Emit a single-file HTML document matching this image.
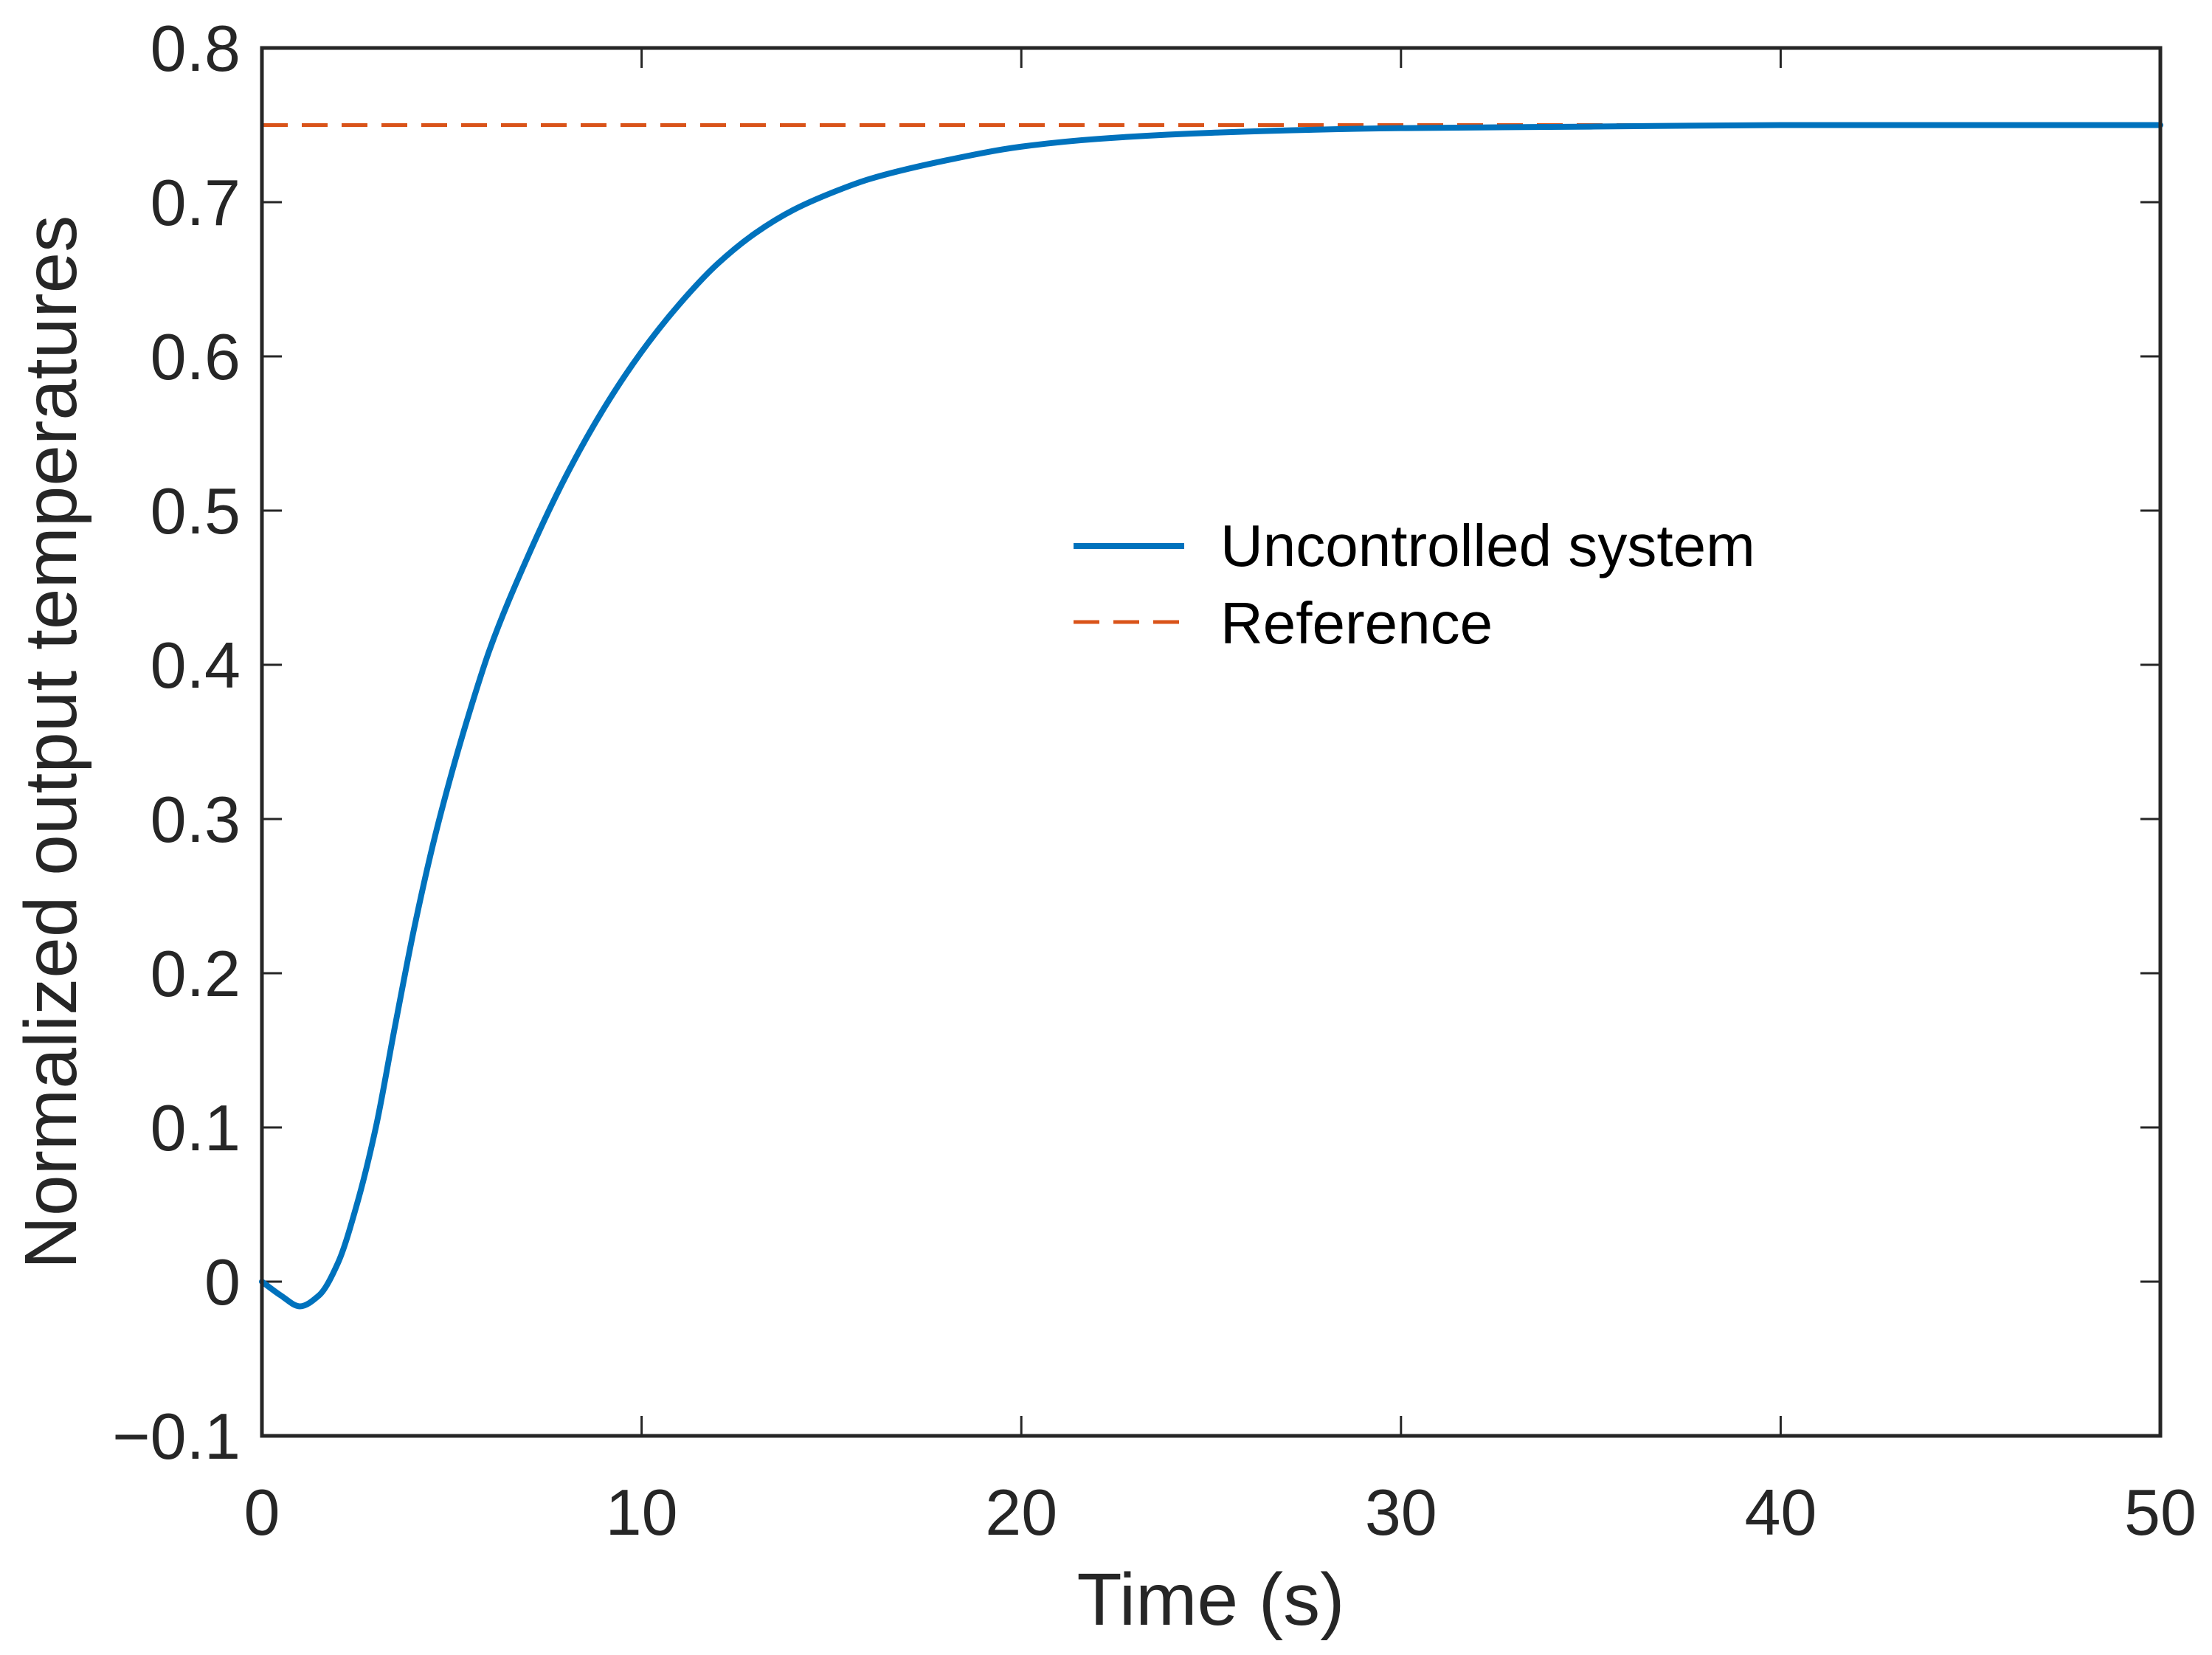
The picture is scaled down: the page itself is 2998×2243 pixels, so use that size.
<!DOCTYPE html>
<html><head><meta charset="utf-8"><style>
html,body{margin:0;padding:0;background:#fff;}
svg{display:block;font-family:"Liberation Sans",Arial,sans-serif;}
</style></head><body>
<svg id="chart" width="2998" height="2243" viewBox="0 0 2998 2243" xmlns="http://www.w3.org/2000/svg">
<rect width="2998" height="2243" fill="#fff"/>
<g id="ticks"></g>
<g id="series"></g>
<rect x="355" y="65" width="2573" height="1881" fill="none" stroke="#262626" stroke-width="5"/>
<text x="1641" y="2202" font-size="100" fill="#262626" text-anchor="middle">Time (s)</text>
<text transform="translate(103,1006) rotate(-90)" font-size="100" fill="#262626" text-anchor="middle">Normalized output temperatures</text>
<g>
<line x1="1455" y1="740" x2="1605" y2="740" stroke="#0072BD" stroke-width="8"/>
<text x="1654" y="767" font-size="80" fill="#000">Uncontrolled system</text>
<line x1="1455" y1="843" x2="1605" y2="843" stroke="#D95319" stroke-width="5" stroke-dasharray="35,19"/>
<text x="1654" y="872" font-size="80" fill="#000">Reference</text>
</g>
</svg>
<script>
const timeValues = [0,0.5,1,1.5,2,2.5,3,3.5,4,4.5,5,5.5,6,7,8,9,10,11,12,13,14,15,16,18,20,22,25,30,35,40,50];
const uncontrolledValues = [0,-0.009,-0.016,-0.009,0.012,0.05,0.1,0.165,0.228,0.283,0.33,0.372,0.41,0.47,0.522,0.566,0.603,0.634,0.66,0.68,0.695,0.706,0.715,0.727,0.736,0.741,0.745,0.748,0.749,0.75,0.75];
const referenceValue = [0.75];
const xTicks = [0,10,20,30,40,50];
const yTicks = [-0.1,0,0.1,0.2,0.3,0.4,0.5,0.6,0.7,0.8];
const yTickLabels = ["\u22120.1","0","0.1","0.2","0.3","0.4","0.5","0.6","0.7","0.8"];

const X0=355,X1=2928,Y0=1946,Y1=65;
function sx(v){return X0+(v-0)/(50-0)*(X1-X0);}
function sy(v){return Y0-(v-(-0.1))/(0.8-(-0.1))*(Y0-Y1);}
const NS="http://www.w3.org/2000/svg";
const tg=document.getElementById('ticks');
const sg=document.getElementById('series');
function mk(tag,attrs,parent){const e=document.createElementNS(NS,tag);for(const k in attrs)e.setAttribute(k,attrs[k]);parent.appendChild(e);return e;}

xTicks.forEach(function(v){
  const x=sx(v);
  const t1=mk('line',{x1:x,y1:Y0,x2:x,y2:Y0-27,stroke:'#262626','stroke-width':3},tg);
  
  
  const t2=mk('line',{x1:x,y1:Y1,x2:x,y2:Y1+27,stroke:'#262626','stroke-width':3},tg);
  
  
  const lb=mk('text',{x:x,y:2080,'font-size':88,fill:'#262626','text-anchor':'middle'},tg);
  lb.textContent=String(v);
  
  
});
yTicks.forEach(function(v,i){
  const y=sy(v);
  const t1=mk('line',{x1:X0,y1:y,x2:X0+27,y2:y,stroke:'#262626','stroke-width':3},tg);
  
  
  const t2=mk('line',{x1:X1,y1:y,x2:X1-27,y2:y,stroke:'#262626','stroke-width':3},tg);
  
  
  const lb=mk('text',{x:326,y:y+31,'font-size':88,fill:'#262626','text-anchor':'end'},tg);
  lb.textContent=yTickLabels[i];
  
  
});

const ref=mk('line',{x1:sx(0),y1:sy(referenceValue[0]),x2:sx(50),y2:sy(referenceValue[0]),stroke:'#D95319','stroke-width':5,'stroke-dasharray':'35,19'},sg);



// monotone cubic (Fritsch-Carlson) interpolation in data space
const n=timeValues.length;
const dk=[],m=new Array(n);
for(let i=0;i<n-1;i++)dk.push((uncontrolledValues[i+1]-uncontrolledValues[i])/(timeValues[i+1]-timeValues[i]));
m[0]=dk[0];m[n-1]=dk[n-2];
for(let i=1;i<n-1;i++){
  if(dk[i-1]*dk[i]<=0)m[i]=0;
  else{const h0=timeValues[i]-timeValues[i-1],h1=timeValues[i+1]-timeValues[i];
    const w1=2*h1+h0,w2=h1+2*h0;m[i]=(w1+w2)/(w1/dk[i-1]+w2/dk[i]);}
}
let d='M'+sx(timeValues[0])+','+sy(uncontrolledValues[0]);
for(let i=0;i<n-1;i++){
  const h=timeValues[i+1]-timeValues[i];
  const c1t=timeValues[i]+h/3,c1v=uncontrolledValues[i]+m[i]*h/3;
  const c2t=timeValues[i+1]-h/3,c2v=uncontrolledValues[i+1]-m[i+1]*h/3;
  d+=' C'+sx(c1t)+','+sy(c1v)+' '+sx(c2t)+','+sy(c2v)+' '+sx(timeValues[i+1])+','+sy(uncontrolledValues[i+1]);
}
const curve=mk('path',{d:d,fill:'none',stroke:'#0072BD','stroke-width':8,'stroke-linecap':'round','stroke-linejoin':'round'},sg);


</script>
</body></html>
